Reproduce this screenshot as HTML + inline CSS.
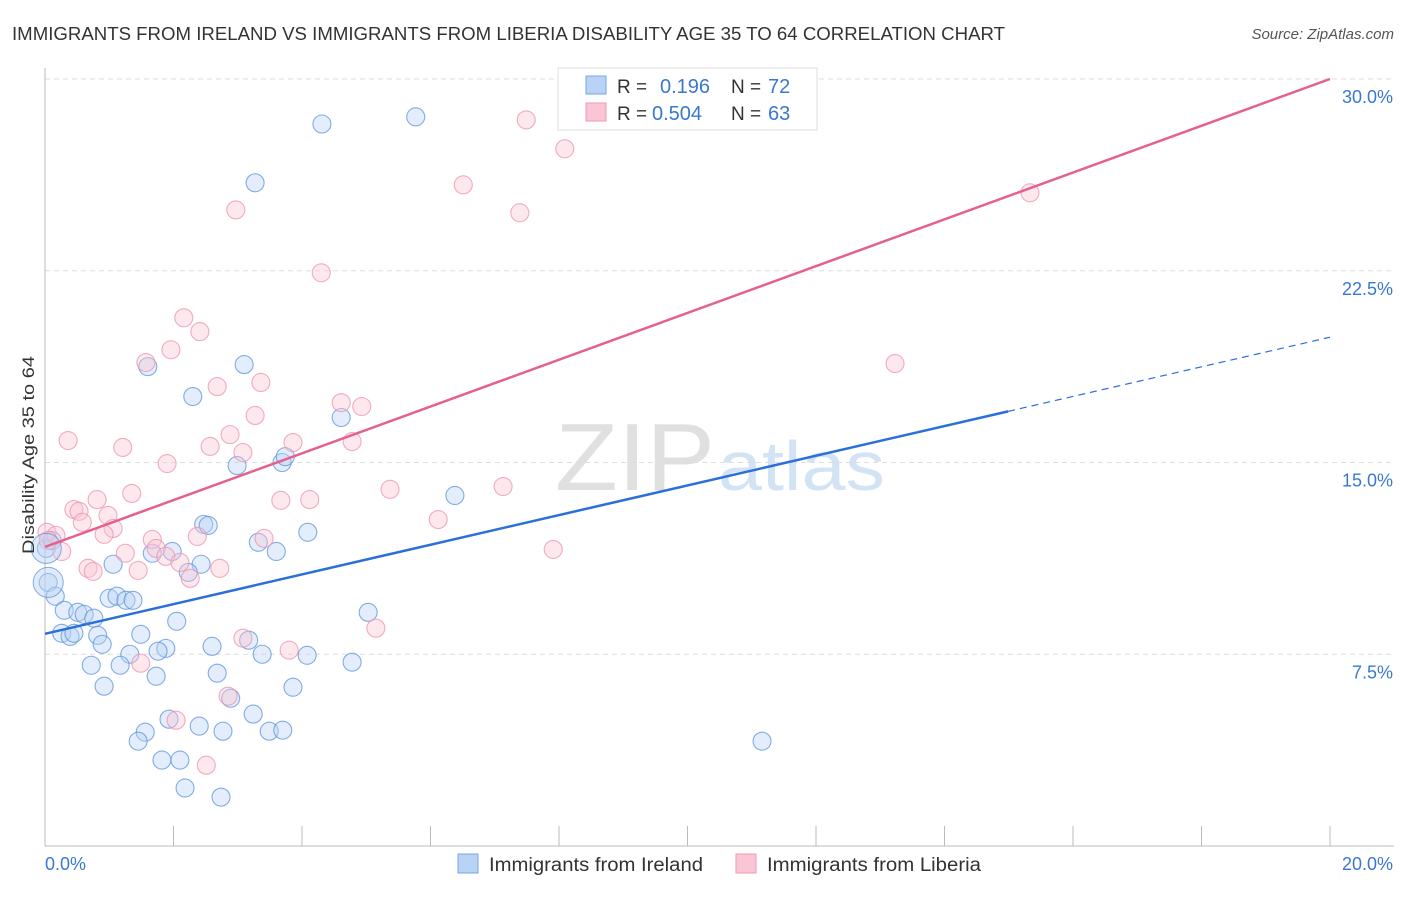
<!DOCTYPE html>
<html><head><meta charset="utf-8">
<style>
body{margin:0;background:#fff;font-family:"Liberation Sans",sans-serif;}
svg text{font-family:"Liberation Sans",sans-serif;}
</style></head>
<body>
<svg id="chart" width="1406" height="892" xmlns="http://www.w3.org/2000/svg">
<text x="12" y="40" font-size="18" fill="#333" textLength="993" lengthAdjust="spacingAndGlyphs">IMMIGRANTS FROM IRELAND VS IMMIGRANTS FROM LIBERIA DISABILITY AGE 35 TO 64 CORRELATION CHART</text>
<text x="1394" y="39" font-size="15" fill="#555" text-anchor="end" font-style="italic">Source: ZipAtlas.com</text>
<g>
<text x="555" y="490" font-size="96" fill="#e0e0e0" font-family="Liberation Serif" textLength="160" lengthAdjust="spacingAndGlyphs">ZIP</text>
<text x="718" y="490" font-size="70" fill="#d3e3f6" textLength="167" lengthAdjust="spacingAndGlyphs">atlas</text>
</g>
<g id="grid"></g>
<g id="axes"></g>
<g id="marks"></g>
<text transform="translate(34,455) rotate(-90)" font-size="17" fill="#333" text-anchor="middle" textLength="198" lengthAdjust="spacingAndGlyphs">Disability Age 35 to 64</text>
<g>
<rect x="558" y="68" width="259" height="62" fill="#fff" stroke="#ddd"/>
<rect x="586" y="76" width="20" height="18" fill="#b8d3f5" stroke="#7aa6e0"/>
<rect x="586" y="103" width="20" height="18" fill="#fac6d5" stroke="#ee9ab3"/>
<text x="617" y="93" font-size="19" fill="#333">R =</text>
<text x="660" y="93" font-size="20" fill="#3a78d0">0.196</text>
<text x="731" y="93" font-size="19" fill="#333">N =</text>
<text x="768" y="93" font-size="20" fill="#3a78d0">72</text>
<text x="617" y="120" font-size="19" fill="#333">R =</text>
<text x="652" y="120" font-size="20" fill="#3a78d0">0.504</text>
<text x="731" y="120" font-size="19" fill="#333">N =</text>
<text x="768" y="120" font-size="20" fill="#3a78d0">63</text>
</g>
<g>
<rect x="458" y="854" width="20" height="19" fill="#b8d3f5" stroke="#7aa6e0"/>
<text x="489" y="871" font-size="19" fill="#333" textLength="214" lengthAdjust="spacingAndGlyphs">Immigrants from Ireland</text>
<rect x="736" y="854" width="20" height="19" fill="#fac6d5" stroke="#ee9ab3"/>
<text x="767" y="871" font-size="19" fill="#333" textLength="214" lengthAdjust="spacingAndGlyphs">Immigrants from Liberia</text>
</g>
</svg>
<script>
const yTicks=[7.5,15,22.5,30];
const yTickLabels=["7.5%","15.0%","22.5%","30.0%"];
const xTickLabels=["0.0%","20.0%"];
const irelandX=[4.31,5.77,3.27,3.10,1.60,2.30,4.61,2.99,3.69,3.74,6.38,2.47,2.54,4.09,3.32,3.60,1.67,1.98,1.06,2.43,2.23,0.05,0.16,1.00,1.12,1.26,1.37,0.30,0.51,0.61,0.76,2.05,5.03,0.26,0.39,0.45,0.82,1.49,0.89,1.88,2.60,3.17,1.32,1.76,3.38,4.08,4.78,0.72,1.17,2.68,1.73,0.92,3.86,2.89,3.24,1.93,2.40,2.77,3.49,3.70,1.56,1.45,11.16,1.82,2.10,2.18,2.74,0.02,0.11];
const irelandY=[28.24,28.52,25.94,18.83,18.75,17.58,16.76,14.88,15.0,15.23,13.71,12.58,12.54,12.27,11.88,11.52,11.45,11.52,11.02,11.02,10.70,10.31,9.77,9.69,9.77,9.61,9.61,9.22,9.14,9.06,8.91,8.79,9.14,8.32,8.20,8.32,8.24,8.28,7.89,7.73,7.81,8.05,7.50,7.62,7.50,7.46,7.19,7.07,7.07,6.76,6.64,6.25,6.21,5.78,5.16,4.96,4.69,4.49,4.49,4.53,4.45,4.10,4.10,3.36,3.36,2.27,1.91,11.64,11.95];
const liberiaX=[7.49,8.09,6.51,2.97,7.39,15.33,4.30,2.16,2.41,1.96,1.57,13.23,2.68,3.36,4.61,4.93,3.27,2.88,0.36,1.21,2.57,3.08,3.86,4.78,1.90,5.37,0.81,1.35,7.13,3.67,4.12,0.45,0.53,0.98,0.58,6.12,1.06,0.92,1.67,2.37,3.41,0.03,0.17,0.26,1.25,1.73,1.88,7.91,0.67,0.75,1.45,2.10,2.26,2.72,5.15,3.08,3.80,1.49,2.85,2.04,2.51,0.05];
const liberiaY=[28.40,27.27,25.86,24.88,24.77,25.55,22.42,20.66,20.12,19.41,18.91,18.87,17.97,18.13,17.34,17.19,16.84,16.09,15.86,15.59,15.63,15.39,15.78,15.82,14.96,13.95,13.55,13.79,14.06,13.52,13.55,13.16,13.09,12.93,12.66,12.77,12.42,12.19,11.99,12.11,12.03,12.27,12.15,11.52,11.45,11.64,11.33,11.60,10.86,10.74,10.78,11.09,10.47,10.86,8.52,8.13,7.66,7.15,5.86,4.92,3.16,11.95];
const irelandTrend=[8.3,17.0,19.9]; // at x=0, 14.99, 20
const liberiaTrend=[11.7,30.0]; // at x=0, 20
const bigIreland=[0.05,10.31],bigIreland2=[0.02,11.64];

const X0=45,X1=1330,Y0=846,Y30=79;
const sx=v=>X0+(X1-X0)*v/20;
const sy=v=>Y0-(Y0-Y30)*v/30;
const NS="http://www.w3.org/2000/svg";
function mk(tag,attrs,parent){const e=document.createElementNS(NS,tag);for(const k in attrs)e.setAttribute(k,attrs[k]);parent.appendChild(e);return e;}
const grid=document.getElementById('grid'),axes=document.getElementById('axes'),marks=document.getElementById('marks');
yTicks.forEach((t,i)=>{
  const l=mk('line',{x1:45,x2:1394,y1:sy(t),y2:sy(t),stroke:'#ddd','stroke-dasharray':'5,4'},grid);
  
  
  const tx=mk('text',{x:1393,y:sy(t)+24,'font-size':18,fill:'#3a78d0','text-anchor':'end'},axes);
  tx.textContent=yTickLabels[i];
  
  
});
const xa=mk('line',{x1:45,x2:1394,y1:846,y2:846,stroke:'#bbb'},axes);


const ya=mk('line',{x1:45,x2:45,y1:68,y2:846,stroke:'#bbb'},axes);


for(let i=1;i<=10;i++){
  const t=mk('line',{x1:sx(i*2),x2:sx(i*2),y1:826,y2:846,stroke:'#bbb'},axes);
  
  
}
[[0,'start',45],[1,'end',1393]].forEach(([i,a,x])=>{
  const tx=mk('text',{x:x,y:870,'font-size':18,fill:'#3a78d0','text-anchor':a},axes);
  tx.textContent=xTickLabels[i];
  
  
});
function dots(xs,ys,fill,stroke,name){
  xs.forEach((x,i)=>{
    const c=mk('circle',{cx:sx(x),cy:sy(ys[i]),r:9,fill:fill,'fill-opacity':0.4,stroke:stroke,'stroke-opacity':0.75,'stroke-width':1.1},marks);
    
    
  });
}
dots(irelandX,irelandY,'#b8d3f5','#5b93dc','point-ireland');
dots(liberiaX,liberiaY,'#fac6d5','#ec92ae','point-liberia');
[bigIreland,bigIreland2].forEach(p=>{
  const c=mk('circle',{cx:sx(p[0]),cy:sy(p[1]),r:15,fill:'#b8d3f5','fill-opacity':0.45,stroke:'#5b93dc','stroke-opacity':0.75},marks);
  
  
});
const l1=mk('line',{x1:sx(0),y1:sy(irelandTrend[0]),x2:sx(14.99),y2:sy(irelandTrend[1]),stroke:'#2b70d8','stroke-width':2.5},marks);


const l2=mk('line',{x1:sx(14.99),y1:sy(irelandTrend[1]),x2:sx(20),y2:sy(irelandTrend[2]),stroke:'#2b70d8','stroke-width':1.2,'stroke-dasharray':'7,5'},marks);


const l3=mk('line',{x1:sx(0),y1:sy(liberiaTrend[0]),x2:sx(20),y2:sy(liberiaTrend[1]),stroke:'#e5608c','stroke-width':2.5},marks);


</script>
</body></html>
